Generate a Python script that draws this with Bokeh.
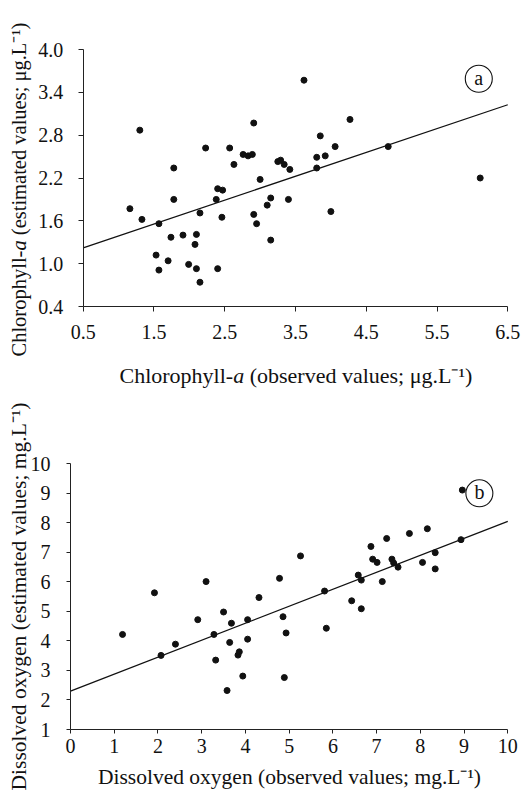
import math
from bokeh.plotting import figure
from bokeh.layouts import column
from bokeh.models import FixedTicker, NumeralTickFormatter, Range1d, Label
from bokeh.core.properties import value
from bokeh.embed import file_html
from bokeh.resources import INLINE

# ---- Panel a: Chlorophyll-a ----
chl_obs = [1.16, 1.30, 1.33, 1.57, 1.53, 1.57, 1.78, 1.78, 1.74, 1.70,
           1.91, 1.99, 2.10, 2.08, 2.10, 2.15, 2.15, 2.23, 2.38, 2.40,
           2.47, 2.46, 2.40, 2.57, 2.63, 2.76, 2.83, 2.89, 2.91, 3.00,
           2.91, 2.95, 3.10, 3.15, 3.15, 3.25, 3.29, 3.34, 3.42, 3.40,
           3.62, 3.80, 3.80, 3.85, 3.92, 4.00, 4.06, 4.27, 4.81, 6.11]
chl_est = [1.77, 2.87, 1.62, 1.56, 1.12, 0.91, 2.34, 1.90, 1.37, 1.04,
           1.40, 0.99, 1.41, 1.27, 0.93, 0.74, 1.71, 2.62, 1.90, 2.05,
           2.03, 1.65, 0.93, 2.62, 2.39, 2.53, 2.51, 2.53, 2.97, 2.18,
           1.69, 1.56, 1.82, 1.92, 1.33, 2.43, 2.45, 2.39, 2.32, 1.90,
           3.57, 2.49, 2.34, 2.79, 2.51, 1.73, 2.64, 3.02, 2.64, 2.20]
chl_fit = (0.334, 1.055)          # slope, intercept of the drawn line
chl_xticks = [0.5, 1.5, 2.5, 3.5, 4.5, 5.5, 6.5]
chl_yticks = [0.4, 1.0, 1.6, 2.2, 2.8, 3.4, 4.0]
chl_tag = ("a", 6.09, 3.59)
chl_xlabel = ("Chlorophyll-", "a", "(observed values; μg.L⁻¹)")
chl_ylabel = ("Chlorophyll-", "a", "(estimated values; μg.L⁻¹)")

# ---- Panel b: Dissolved oxygen ----
do_obs = [1.19, 1.92, 2.07, 2.40, 2.91, 3.10, 3.28, 3.32, 3.50, 3.68,
          3.64, 3.58, 3.83, 3.86, 3.94, 4.05, 4.05, 4.31, 4.78, 4.86,
          4.93, 4.89, 5.26, 5.81, 5.85, 6.43, 6.58, 6.65, 6.65, 6.87,
          6.91, 7.01, 7.13, 7.23, 7.35, 7.39, 7.49, 7.75, 8.05, 8.16,
          8.34, 8.34, 8.93, 8.96]
do_est = [4.22, 5.63, 3.51, 3.89, 4.72, 6.01, 4.22, 3.35, 4.98, 4.60,
          3.95, 2.32, 3.52, 3.63, 2.81, 4.72, 4.06, 5.47, 6.12, 4.82,
          4.27, 2.76, 6.88, 5.69, 4.43, 5.36, 6.23, 6.06, 5.09, 7.20,
          6.77, 6.66, 6.01, 7.47, 6.77, 6.64, 6.50, 7.64, 6.66, 7.80,
          6.99, 6.44, 7.43, 9.11]
do_fit = (0.575, 2.30)
do_xticks = [0, 1, 2, 3, 4, 5, 6, 7, 8, 9, 10]
do_yticks = [1, 2, 3, 4, 5, 6, 7, 8, 9, 10]
do_tag = ("b", 9.35, 9.00)
do_xlabel = "Dissolved oxygen (observed values; mg.L⁻¹)"
do_ylabel = "Dissolved oxygen (estimated values; mg.L⁻¹)"

FONT = "Liberation Serif"
INK = "#111111"
LAB_PX = 22
PREFIX_EM = 5.167   # width of "Chlorophyll-" in Times metrics (em)
ITALIC_A_EM = 0.5
SPACE_EM = 0.25
W = 523


def panel(xs, ys, fit, xticks, yticks, fmt, tag, height, box, xstand, ystand, tick_out):
    # box = (left, top, right, bottom) pixel position of the axes' extent on the canvas
    left, top_px, right, bot = box
    xpx = (right - left) / (xticks[-1] - xticks[0])
    ypx = (bot - top_px) / (yticks[-1] - yticks[0])
    xr = Range1d(xticks[0] - left / xpx, xticks[-1] + (W - right) / xpx)
    yr = Range1d(yticks[0] - (height - bot) / ypx, yticks[-1] + top_px / ypx)
    p = figure(width=W, height=height, output_backend="svg", toolbar_location=None,
               x_range=xr, y_range=yr, min_border=0)
    p.outline_line_color = None
    p.xgrid.visible = False
    p.ygrid.visible = False
    p.xaxis.fixed_location = yticks[0]
    p.yaxis.fixed_location = xticks[0]
    p.xaxis.bounds = (xticks[0], xticks[-1])
    p.yaxis.bounds = (yticks[0], yticks[-1])
    for ax, ticks, stand in ((p.xaxis[0], xticks, xstand), (p.yaxis[0], yticks, ystand)):
        ax.ticker = FixedTicker(ticks=ticks)
        ax.formatter = NumeralTickFormatter(format=fmt)
        ax.minor_tick_line_color = None
        ax.major_tick_in = 0
        ax.major_tick_out = tick_out
        ax.axis_line_color = "#222222"
        ax.major_tick_line_color = "#222222"
        ax.major_label_text_font = FONT
        ax.major_label_text_font_size = "20px"
        ax.major_label_text_color = INK
        ax.major_label_standoff = stand
    x0, x1 = xticks[0], xticks[-1]
    p.line([x0, x1], [fit[0] * x0 + fit[1], fit[0] * x1 + fit[1]], line_color=INK, line_width=1.3)
    p.scatter(xs, ys, size=6, marker="circle", fill_color=INK, line_color=INK)
    p.scatter([tag[1]], [tag[2]], size=27, marker="circle", fill_color=None,
              line_color=INK, line_width=1.1)
    p.text([tag[1]], [tag[2]], text=[tag[0]], text_align="center", text_baseline="middle",
           text_font=value(FONT), text_font_size="20px", text_color=INK, y_offset=-1)
    return p


def lab(p, text, x, y, angle=0.0, align="left", style="normal", size=LAB_PX):
    p.add_layout(Label(x=x, y=y, x_units="canvas", y_units="canvas", text=text,
                       angle=angle, text_align=align, text_baseline="alphabetic",
                       text_font=FONT, text_font_size=f"{size}px", text_font_style=style,
                       text_color=INK))


def pieces_h(p, parts, x, y, size=LAB_PX):
    w0 = PREFIX_EM * size
    wa = (ITALIC_A_EM + SPACE_EM) * size
    lab(p, parts[0], x, y, size=size)
    lab(p, parts[1], x + w0, y, style="italic", size=size)
    lab(p, parts[2], x + w0 + wa, y, size=size)


def pieces_v(p, parts, x, y, size=LAB_PX):
    w0 = PREFIX_EM * size
    wa = (ITALIC_A_EM + SPACE_EM) * size
    a = math.pi / 2
    lab(p, parts[0], x, y, angle=a, size=size)
    lab(p, parts[1], x, y - w0, angle=a, style="italic", size=size)
    lab(p, parts[2], x, y - w0 - wa, angle=a, size=size)


TOP_H = 394
BOT_H = 398
top = panel(chl_obs, chl_est, chl_fit, chl_xticks, chl_yticks, "0.0", chl_tag,
            height=TOP_H, box=(82.7, 49, 507.3, 306), xstand=13, ystand=15, tick_out=5)
pieces_h(top, chl_xlabel, 119, 375)
pieces_v(top, chl_ylabel, 18, 356, size=20.5)

bottom = panel(do_obs, do_est, do_fit, do_xticks, do_yticks, "0", do_tag,
               height=BOT_H, box=(70, 463.3 - TOP_H, 507.3, 729 - TOP_H),
               xstand=5, ystand=16, tick_out=4)
lab(bottom, do_xlabel, 289, 776 - TOP_H, align="center", size=21.5)
lab(bottom, do_ylabel, 18, 596 - TOP_H, angle=math.pi / 2, align="center", size=21.5)

layout = column(top, bottom)
open("out.html", "w").write(file_html(layout, INLINE))
